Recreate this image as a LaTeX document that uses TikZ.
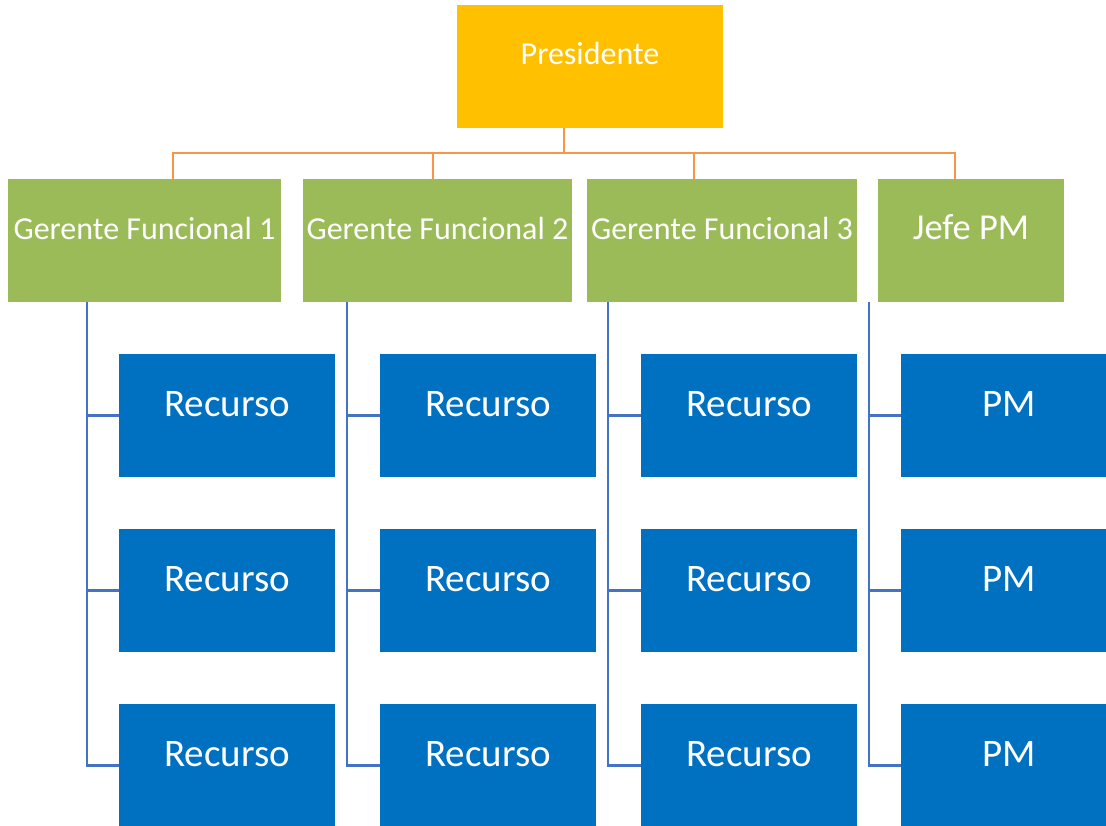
\documentclass[tikz,border=0pt]{standalone}
\usepackage{fontspec}
\setmainfont{Carlito}
\definecolor{presyellow}{HTML}{FFC000}
\definecolor{gergreen}{HTML}{9BBB59}
\definecolor{recblue}{HTML}{0070C0}
\definecolor{busorange}{HTML}{F79646}
\definecolor{linkblue}{HTML}{4472C4}
\tikzset{
	box/.style={rectangle,inner sep=0pt,text=white,minimum height=123pt},
	presbox/.style={box,fill=presyellow,minimum width=266pt,text height=18pt,text depth=22pt,font=\fontsize{32}{38}\selectfont},
	gerbox/.style={box,fill=gergreen,text height=18pt,text depth=20pt,font=\fontsize{32}{38}\selectfont},
	recbox/.style={box,fill=recblue,minimum width=216pt,text height=18pt,text depth=17pt,font=\fontsize{39}{46}\selectfont},
	orangeline/.style={color=busorange,line width=2.4pt},
	blueline/.style={color=linkblue,line width=2.4pt}
}
\begin{document}
\begin{tikzpicture}[x=1pt,y=-1pt]
		\useasboundingbox (0,0) rectangle (1106,826);
		\clip (0,0) rectangle (1106,826);
		% top and managers
		\node [presbox] (pres) at (590,66.5) {Presidente};
		\node [gerbox,minimum width=273pt] (gf1) at (144.5,240.5) {Gerente Funcional 1};
		\node [gerbox,minimum width=269pt] (gf2) at (437.5,240.5) {Gerente Funcional 2};
		\node [gerbox,minimum width=270pt] (gf3) at (722,240.5) {Gerente Funcional 3};
		\node [gerbox,minimum width=186pt,font=\fontsize{36.5}{44}\selectfont] (jefe) at (971,240.5) {Jefe PM};
		% resources
		\node [recbox] (r11) at (227,415.5) {Recurso};
		\node [recbox] (r12) at (227,590.5) {Recurso};
		\node [recbox] (r13) at (227,765.5) {Recurso};
		\node [recbox] (r21) at (488,415.5) {Recurso};
		\node [recbox] (r22) at (488,590.5) {Recurso};
		\node [recbox] (r23) at (488,765.5) {Recurso};
		\node [recbox] (r31) at (749,415.5) {Recurso};
		\node [recbox] (r32) at (749,590.5) {Recurso};
		\node [recbox] (r33) at (749,765.5) {Recurso};
		\node [recbox] (r41) at (1009,415.5) {PM};
		\node [recbox] (r42) at (1009,590.5) {PM};
		\node [recbox] (r43) at (1009,765.5) {PM};
		% orange bus
		\coordinate (hub) at (564,153);
		\coordinate (d1) at (173,153);
		\coordinate (d2) at (433,153);
		\coordinate (d3) at (694,153);
		\coordinate (d4) at (955,153);
		\draw [orangeline] (hub |- pres.south) -- (hub);
		\draw [orangeline] (d1 |- gf1.north) -- (d1) -- (d4) -- (d4 |- jefe.north)
		(d2) -- (d2 |- gf2.north) (d3) -- (d3 |- gf3.north);
		% blue spines
		\coordinate (s1) at (87,0);
		\coordinate (s2) at (347,0);
		\coordinate (s3) at (608,0);
		\coordinate (s4) at (869,0);
		\draw [blueline] (s1 |- gf1.south) -- (s1 |- r13.west) -- (r13.west)
		(s1 |- r11.west) -- (r11.west) (s1 |- r12.west) -- (r12.west);
		\draw [blueline] (s2 |- gf2.south) -- (s2 |- r23.west) -- (r23.west)
		(s2 |- r21.west) -- (r21.west) (s2 |- r22.west) -- (r22.west);
		\draw [blueline] (s3 |- gf3.south) -- (s3 |- r33.west) -- (r33.west)
		(s3 |- r31.west) -- (r31.west) (s3 |- r32.west) -- (r32.west);
		\draw [blueline] (s4 |- jefe.south) -- (s4 |- r43.west) -- (r43.west)
		(s4 |- r41.west) -- (r41.west) (s4 |- r42.west) -- (r42.west);
	\end{tikzpicture}
\end{document}
